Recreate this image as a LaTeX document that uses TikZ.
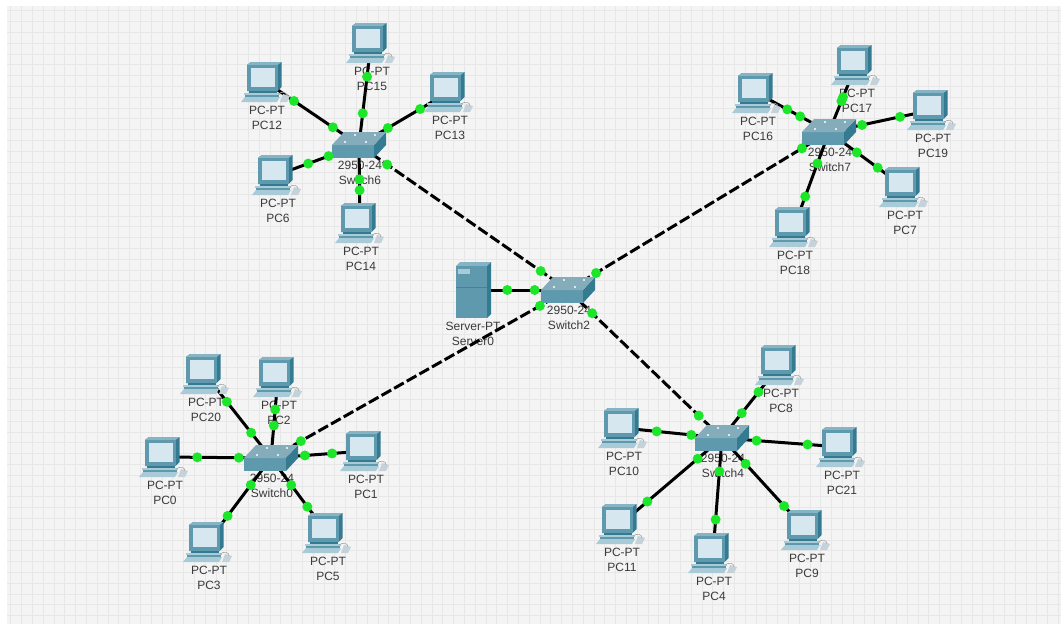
\documentclass[tikz,border=0pt]{standalone}
\usepackage{fontspec}
\setmainfont{Liberation Sans}
\definecolor{canvasfill}{HTML}{F4F4F4}
\definecolor{canvasline}{HTML}{E7E7E7}
\definecolor{labeltext}{HTML}{3A3A3A}
\definecolor{portgreen}{HTML}{1CE62A}
\definecolor{iconfront}{HTML}{5F99AE}
\definecolor{iconside}{HTML}{347A90}
\definecolor{icontop}{HTML}{86B4C4}
\definecolor{iconscreen}{HTML}{D6E7EF}
\definecolor{iconpale}{HTML}{A9CBD8}
\tikzset{
  devnode/.style={inner sep=0pt,minimum size=0pt},
  devlabel/.style={align=center,font=\fontsize{12}{15.3}\selectfont,text=labeltext,inner sep=0pt},
  cable/.style={black,line width=3pt},
  trunk/.style={black,line width=3pt,dash pattern=on 11pt off 3.5pt},
  portdot/.style={circle,fill=portgreen,inner sep=0pt,minimum size=10pt},
  pics/pcicon/.style={code={
    \fill[iconside] (-19,-17) -- (-15,-20) -- (15.5,-20) -- (15.5,5) -- (11.5,9) -- (-19,9) -- cycle;
    \fill[icontop] (-19,-17) -- (-15,-20) -- (15.5,-20) -- (11.5,-17) -- cycle;
    \fill[iconfront] (-19,-17) rectangle (11.5,9);
    \fill[iconscreen] (-15,-14) rectangle (8.5,5);
    \fill[iconside] (-17,9) rectangle (11,11);
    \fill[iconpale] (-22,11) rectangle (14,12.5);
    \fill[iconfront] (-21,12.5) rectangle (13,15);
    \fill[iconpale] (-25,20) -- (-21,15) -- (14,15) -- (11,20) -- cycle;
    \fill[iconscreen!80!gray] (14,20) -- (17,12) -- (24,14) -- (21,20) -- cycle;
    \draw[gray!70,line width=.6pt] (12,12) .. controls (16,9) and (21,10) .. (21,14);
  }},
  pics/switchicon/.style={code={
    \fill[iconfront] (-27,0) rectangle (15,13);
    \fill[iconside] (15,0) -- (27,-13) -- (27,0) -- (15,13) -- cycle;
    \fill[icontop!85!gray] (-27,0) -- (-15,-13) -- (27,-13) -- (15,0) -- cycle;
    \fill[white] (-14,-3) circle (1.2) (-4,-10) circle (1.2) (7,-3) circle (1.2) (16,-10) circle (1.2);
  }},
  pics/servericon/.style={code={
    \fill[icontop] (-17,-24) -- (-13,-28) -- (18,-28) -- (14,-24) -- cycle;
    \fill[iconfront] (-17,-24) rectangle (14,28);
    \fill[iconside] (14,-24) -- (18,-28) -- (18,24) -- (14,28) -- cycle;
    \fill[iconpale] (-15,-21) rectangle (-3,-16);
    \draw[iconside!70!iconfront,line width=.5pt] (-17,-3) -- (14,-3);
  }}
}
% name/x/y of every pc, centre of its icon, in pixels of the picture
\def\pclist{PC12/266/82,PC15/371/43,PC13/449/92,PC6/277/175,PC14/360/223,
  PC16/757/93,PC17/856/65,PC19/932/110,PC7/904/187,PC18/794/227,
  PC20/205/374,PC2/278/377,PC0/164/457,PC1/365/451,PC3/208/542,PC5/327/533,
  PC8/780/365,PC10/623/428,PC21/841/447,PC11/621/524,PC4/713/553,PC9/806/530}
\def\switchlist{Switch6/359/145,Switch2/568/290,Switch7/829/132,Switch0/271/458,Switch4/722/438}
% from/to/first port/second port
\def\cablelist{PC12/Switch6/.30/.72,PC15/Switch6/.33/.69,PC13/Switch6/.32/.68,PC6/Switch6/.38/.63,PC14/Switch6/.42/.56,
  PC16/Switch7/.42/.60,PC17/Switch7/.48/.54,PC19/Switch7/.31/.68,PC7/Switch7/.35/.63,PC18/Switch7/.32/.67,
  PC20/Switch0/.33/.70,PC2/Switch0/.40/.60,PC0/Switch0/.31/.70,PC1/Switch0/.35/.64,PC3/Switch0/.31/.68,PC5/Switch0/.35/.64,
  PC8/Switch4/.37/.66,PC10/Switch4/.34/.69,PC21/Switch4/.28/.71,PC11/Switch4/.26/.76,PC4/Switch4/.29/.71,PC9/Switch4/.26/.72,
  Server0/Switch2/.36/.65}
\def\trunklist{Switch6/Switch2/.134/.87,Switch2/Switch7/.107/.897,Switch2/Switch0/.094/.90,Switch2/Switch4/.156/.85}
\begin{document}
\begin{tikzpicture}[x=1pt,y=-1pt]
    \useasboundingbox (0,0) rectangle (1061,624);
    \fill[canvasfill] (7,6) rectangle (1061,624);
    \draw[canvasline,line width=.9pt,step=10.8pt] (7,6) grid (1061,624);
    % nodes and labels
    \foreach \nm/\x/\y in \pclist
    {
        \node[devnode] (\nm) at (\x,\y) {};
        \node[devlabel] (\nm label) at (\x+1,\y+36) {PC-PT\\\nm};
    }
    \foreach \nm/\x/\y in \switchlist
    {
        \node[devnode] (\nm) at (\x,\y) {};
        \node[devlabel] (\nm label) at (\x+1,\y+28) {2950-24\\\nm};
    }
    \node[devnode] (Server0) at (473,290) {};
    \node[devlabel] (Server0 label) at (473,334) {Server-PT\\Server0};
    % cables
    \foreach \a/\b/\s/\t in \cablelist
    {
        \draw[cable] (\a) -- (\b);
    }
    \foreach \a/\b/\s/\t in \trunklist
    {
        \draw[trunk] (\a) -- (\b);
    }
    % icons
    \foreach \nm/\x/\y in \pclist
    {
        \pic at (\nm) {pcicon};
    }
    \foreach \nm/\x/\y in \switchlist
    {
        \pic at (\nm) {switchicon};
    }
    \pic at (Server0) {servericon};
    % ports
    \foreach \a/\b/\s/\t in \cablelist
    {
        \path (\a) -- (\b) node[portdot,pos=\s] {} node[portdot,pos=\t] {};
    }
    \foreach \a/\b/\s/\t in \trunklist
    {
        \path (\a) -- (\b) node[portdot,pos=\s] {} node[portdot,pos=\t] {};
    }
\end{tikzpicture}
\end{document}
